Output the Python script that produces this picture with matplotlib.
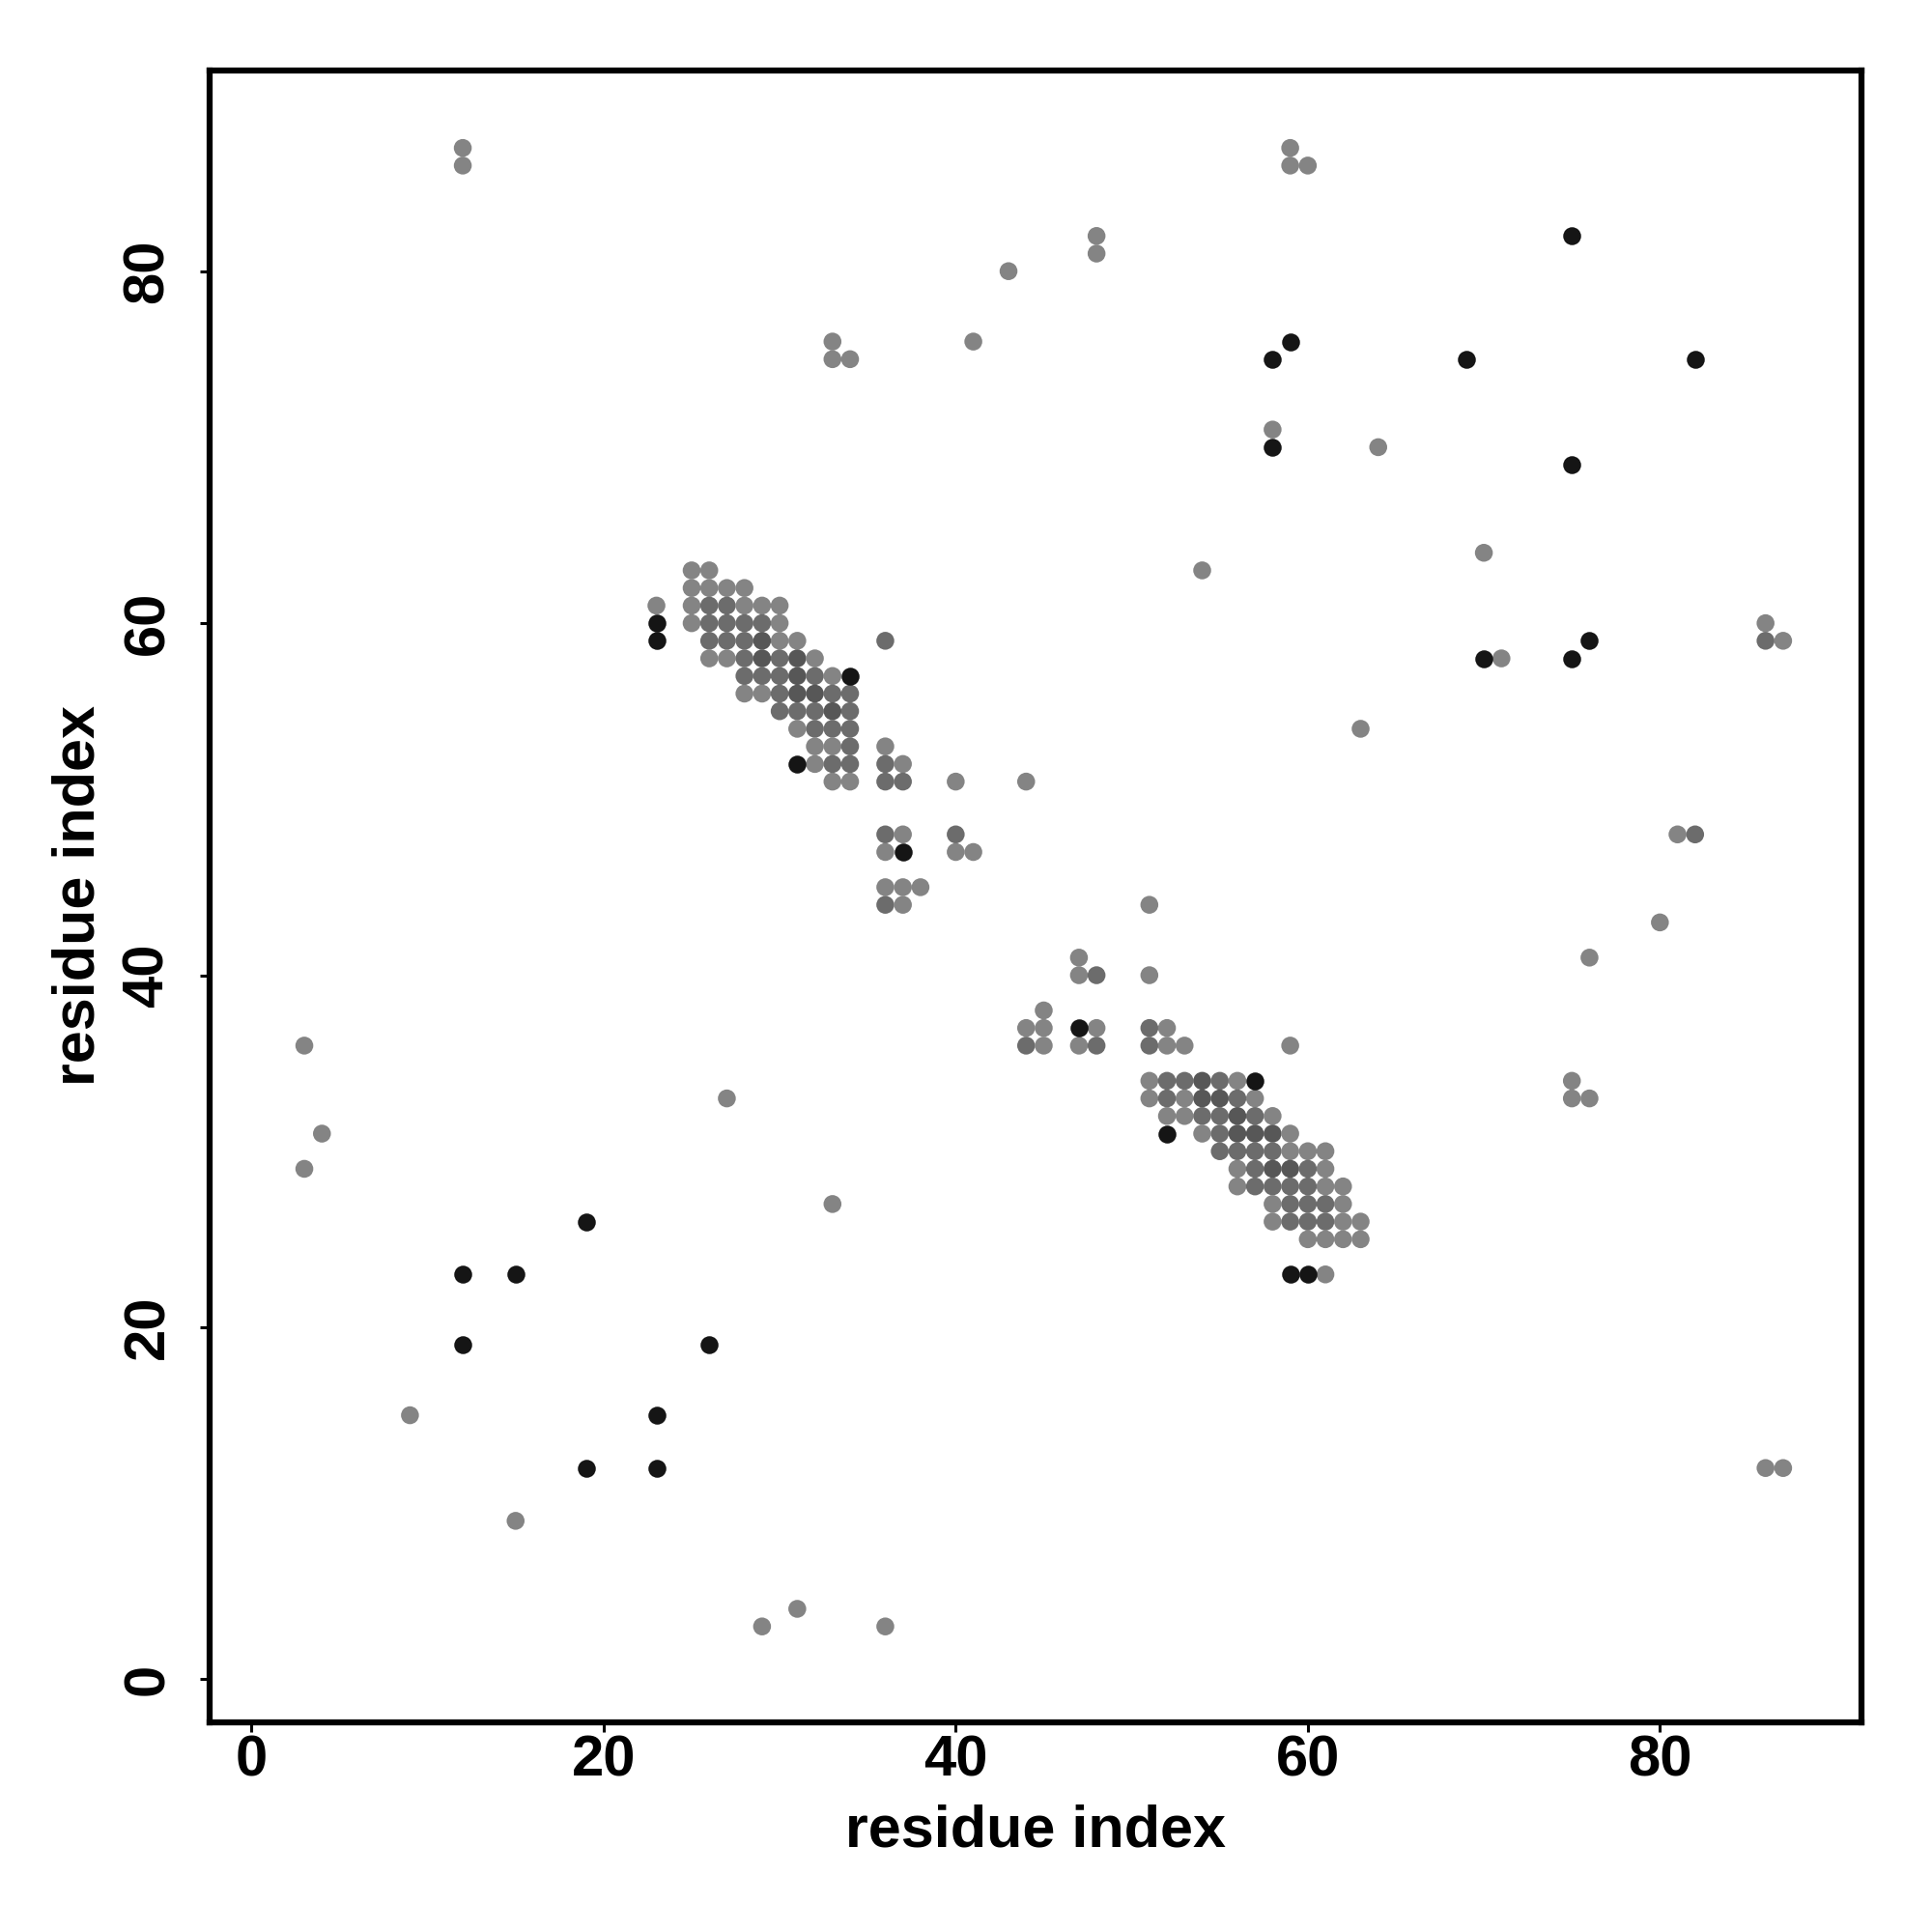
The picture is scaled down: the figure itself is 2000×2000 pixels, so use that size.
import matplotlib
matplotlib.use("Agg")
import matplotlib.pyplot as plt
import numpy as np

# ---- data: gray contacts (x, y, overlap level) ----
gray_x = [25, 26,
          25, 26, 27, 28,
          23, 25, 26, 27, 28, 29, 30,
          25, 26, 27, 28, 29, 30,
          26, 27, 28, 29, 30, 31, 36,
          26, 27, 28, 29, 30, 31, 32,
          28, 29, 30, 31, 32, 33,
          28, 29, 30, 31, 32, 33, 34,
          30, 31, 32, 33, 34,
          31, 32, 33, 34,
          32, 33, 34, 36,
          32, 33, 34, 36, 37,
          33, 34, 36, 37, 40, 44,
          36, 37, 40,
          36, 40, 41,
          36, 37, 38,
          36, 37,
          47,
          47, 48, 51,
          45,
          44, 45, 48, 51, 52,
          44, 45, 47, 48, 51, 52, 53, 59,
          51, 52, 53, 54, 55, 56,
          51, 52, 53, 54, 55, 56, 57,
          52, 53, 54, 55, 56, 57, 58,
          54, 55, 56, 57, 58, 59,
          55, 56, 57, 58, 59, 60, 61,
          56, 57, 58, 59, 60, 61,
          56, 57, 58, 59, 60, 61, 62,
          58, 59, 60, 61, 62,
          58, 59, 60, 61, 62, 63,
          60, 61, 62, 63,
          61,
          12, 12, 59, 59, 60, 48, 48, 43, 33, 33, 34, 41, 58, 64, 70, 54, 71,
          86, 86, 87, 63, 81, 82, 51, 80, 76, 3, 4, 3, 27, 75, 75, 76, 33,
          9, 15, 86, 87, 29, 31, 36]
gray_y = [63, 63,
          62, 62, 62, 62,
          61, 61, 61, 61, 61, 61, 61,
          60, 60, 60, 60, 60, 60,
          59, 59, 59, 59, 59, 59, 59,
          58, 58, 58, 58, 58, 58, 58,
          57, 57, 57, 57, 57, 57,
          56, 56, 56, 56, 56, 56, 56,
          55, 55, 55, 55, 55,
          54, 54, 54, 54,
          53, 53, 53, 53,
          52, 52, 52, 52, 52,
          51, 51, 51, 51, 51, 51,
          48, 48, 48,
          47, 47, 47,
          45, 45, 45,
          44, 44,
          41,
          40, 40, 40,
          38,
          37, 37, 37, 37, 37,
          36, 36, 36, 36, 36, 36, 36, 36,
          34, 34, 34, 34, 34, 34,
          33, 33, 33, 33, 33, 33, 33,
          32, 32, 32, 32, 32, 32, 32,
          31, 31, 31, 31, 31, 31,
          30, 30, 30, 30, 30, 30, 30,
          29, 29, 29, 29, 29, 29,
          28, 28, 28, 28, 28, 28, 28,
          27, 27, 27, 27, 27,
          26, 26, 26, 26, 26, 26,
          25, 25, 25, 25,
          23,
          87, 86, 87, 86, 86, 82, 81, 80, 76, 75, 75, 76, 71, 70, 64, 63, 58,
          60, 59, 59, 54, 48, 48, 44, 43, 41, 36, 31, 29, 33, 34, 33, 33, 27,
          15, 9, 12, 12, 3, 4, 3]
gray_level = [1, 1,
              1, 1, 1, 1,
              1, 1, 2, 2, 1, 1, 1,
              1, 2, 2, 2, 2, 1,
              2, 2, 2, 3, 1, 1, 2,
              1, 1, 2, 3, 2, 3, 1,
              2, 2, 2, 3, 2, 1,
              1, 1, 2, 3, 3, 2, 2,
              2, 2, 2, 3, 2,
              1, 2, 2, 2,
              1, 1, 2, 1,
              1, 2, 2, 2, 1,
              1, 1, 2, 2, 1, 1,
              2, 1, 2,
              1, 1, 1,
              1, 1, 1,
              2, 1,
              1,
              1, 2, 1,
              1,
              1, 1, 1, 2, 1,
              2, 1, 1, 2, 2, 1, 1, 1,
              1, 2, 2, 3, 2, 1,
              1, 2, 1, 3, 3, 2, 1,
              1, 1, 2, 2, 3, 2, 1,
              1, 2, 3, 3, 3, 1,
              2, 2, 2, 2, 1, 1, 1,
              1, 2, 3, 3, 2, 1,
              1, 2, 2, 2, 2, 1, 1,
              1, 2, 2, 2, 1,
              1, 2, 2, 2, 1, 1,
              1, 1, 1, 1,
              1,
              1, 1, 1, 1, 1, 1, 1, 1, 1, 1, 1, 1, 1, 1, 1, 1, 1,
              1, 2, 1, 1, 1, 2, 1, 1, 1, 1, 1, 1, 1, 1, 1, 1, 1,
              1, 1, 1, 1, 1, 1, 1]

# ---- data: black contacts ----
black_x = [75, 58, 59, 69, 82, 58, 75, 70, 75, 76, 19, 12, 15, 12, 26, 23, 19, 23,
           23, 23, 34, 31, 37, 47, 57, 52, 59, 60]
black_y = [82, 75, 76, 75, 75, 70, 69, 58, 58, 59, 26, 23, 23, 19, 19, 15, 12, 12,
           60, 59, 57, 52, 47, 37, 34, 31, 23, 23]

x_ticks = [0, 20, 40, 60, 80]
y_ticks = [0, 20, 40, 60, 80]
axis_label = "residue index"

plt.rcParams['font.family'] = ['Liberation Sans', 'DejaVu Sans']
plt.rcParams['font.weight'] = 'bold'

fig = plt.figure(figsize=(20, 20), dpi=100)
ax = fig.add_axes([0.1085, 0.1085, 0.855, 0.855])

level_gray = {1: '#848484', 2: '#6c6c6c', 3: '#575757', 4: '#4a4a4a'}
cols = [level_gray[l] for l in gray_level]
ax.scatter(gray_x, gray_y, s=178, c=cols, linewidths=0, zorder=2)
ax.scatter(black_x, black_y, s=178, c='#151515', linewidths=0, zorder=3)

ax.set_xlim(-2.38, 91.45)
ax.set_ylim(-2.45, 91.4)
ax.set_xticks(x_ticks)
ax.set_yticks(y_ticks)
ax.set_xticklabels([str(t) for t in x_ticks], fontsize=43, fontweight='bold')
ax.set_yticklabels([str(t) for t in y_ticks], fontsize=43, fontweight='bold',
                   rotation=90, va='center')
for sp in ax.spines.values():
    sp.set_linewidth(4.5)
ax.tick_params(direction='out', length=7, width=2.2)
ax.tick_params(axis='x', pad=2)
ax.tick_params(axis='y', pad=19)

fig.text(0.536, 1 - 1912 / 2000, axis_label, fontsize=44, fontweight='bold',
         ha='center', va='baseline')
fig.text(53 / 2000, 1 - 927 / 2000, axis_label, fontsize=44, fontweight='bold',
         ha='left', va='center', rotation=90)

fig.savefig("out.png", dpi=100)
